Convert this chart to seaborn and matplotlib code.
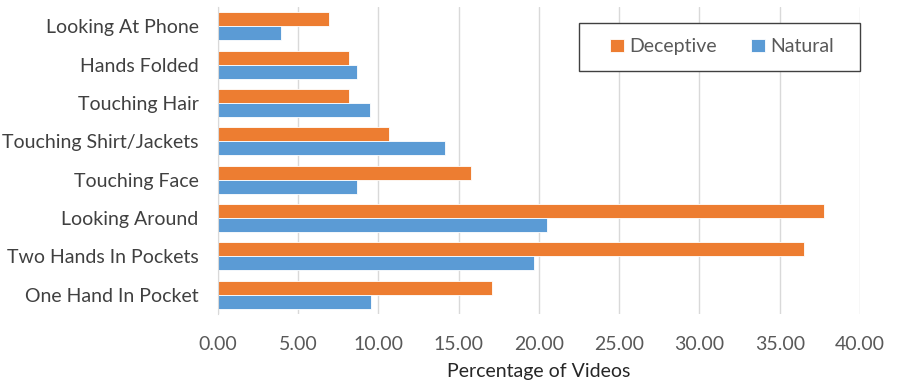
import pandas as pd
import seaborn as sns
import matplotlib
matplotlib.use("Agg")
import matplotlib.pyplot as plt
from matplotlib.patches import Rectangle

categories = ["Looking At Phone", "Hands Folded", "Touching Hair",
              "Touching Shirt/Jackets", "Touching Face", "Looking Around",
              "Two Hands In Pockets", "One Hand In Pocket"]
deceptive = [6.9, 8.17, 8.17, 10.67, 15.74, 37.74, 36.52, 17.06]
natural = [3.95, 8.67, 9.45, 14.17, 8.67, 20.47, 19.67, 9.55]
xticks = [0, 5, 10, 15, 20, 25, 30, 35, 40]

df = pd.DataFrame({
    "behaviour": categories * 2,
    "pct": deceptive + natural,
    "kind": ["Deceptive"] * len(categories) + ["Natural"] * len(categories),
})

sns.set_style("white")
plt.rcParams["font.family"] = ["Lato", "DejaVu Sans"]

fig = plt.figure(figsize=(8.97, 3.90), dpi=100)
ax = fig.add_axes([0.243, 0.195, 0.7157, 0.787])

sns.barplot(data=df, x="pct", y="behaviour", hue="kind", orient="h",
            order=categories, hue_order=["Deceptive", "Natural"],
            palette={"Deceptive": "#ED7D31", "Natural": "#5B9BD5"},
            width=0.73, saturation=1, edgecolor="white", linewidth=0.6, ax=ax)

ax.set_xlim(0, 40)
ax.set_xticks(xticks)
ax.set_xticklabels([f"{t:.2f}" for t in xticks])
ax.grid(axis="x", color="#D9D9D9", lw=1)
ax.set_axisbelow(True)
for s in ["top", "right", "bottom"]:
    ax.spines[s].set_visible(False)
ax.spines["left"].set_color("#D9D9D9")
ax.tick_params(axis="both", length=0, labelsize=14, labelcolor="#404040")
ax.tick_params(axis="y", pad=14)
ax.tick_params(axis="x", pad=16, labelcolor="#595959")
ax.set_ylabel("")
ax.set_xlabel("Percentage of Videos", fontsize=14, color="#262626", labelpad=7)

# legend box drawn separately, entries centred inside it
ax.add_patch(Rectangle((0.6455, 0.818), 0.3133, 0.123, transform=fig.transFigure,
                       facecolor="white", edgecolor="#404040", lw=1,
                       zorder=5, clip_on=False))
leg = ax.legend(loc="center", bbox_to_anchor=(0.805, 0.8795),
                bbox_transform=fig.transFigure, ncol=2,
                fontsize=14, frameon=False, handlelength=0.7,
                handleheight=0.7, handletextpad=0.3, columnspacing=1.75,
                borderaxespad=0, borderpad=0)
leg.set_zorder(6)
for t in leg.get_texts():
    t.set_color("#595959")

fig.savefig("out.png", dpi=100)
